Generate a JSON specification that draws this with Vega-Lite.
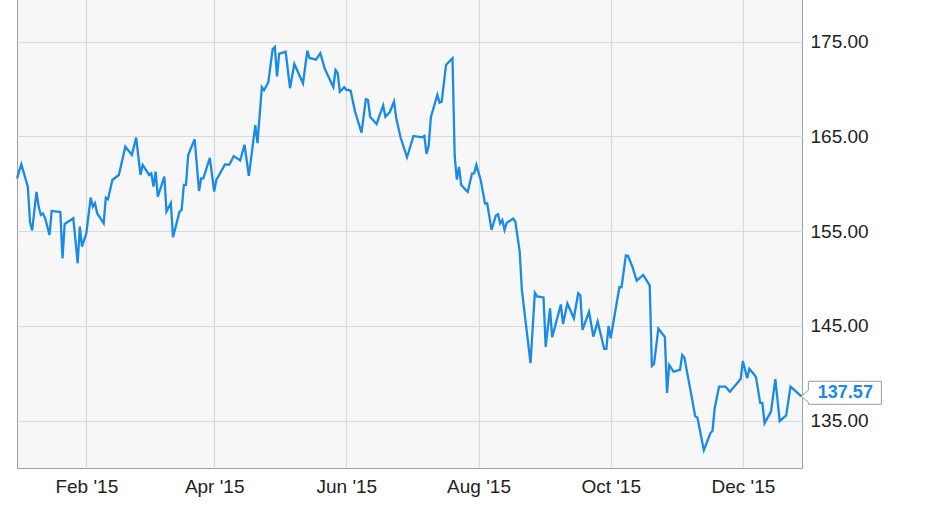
{
  "$schema": "https://vega.github.io/schema/vega-lite/v6.json",
  "width": 785,
  "height": 470,
  "autosize": {"type": "none"},
  "padding": {"left": 17, "top": -2, "right": 129, "bottom": 38},
  "background": "#ffffff",
  "config": {
    "view": {"fill": "#f7f7f7", "stroke": "#a0a0a0", "strokeWidth": 1},
    "axis": {
      "labelFont": "Liberation Sans",
      "labelFontSize": 19,
      "labelColor": "#222222",
      "gridColor": "#d9d9d9",
      "gridWidth": 1.2,
      "ticks": false,
      "domain": false,
      "title": null
    }
  },
  "data": {
    "values": [
      {"date": "2014-12-31", "close": 160.58},
      {"date": "2015-01-02", "close": 162.07},
      {"date": "2015-01-05", "close": 159.70},
      {"date": "2015-01-06", "close": 155.97},
      {"date": "2015-01-07", "close": 155.07},
      {"date": "2015-01-09", "close": 159.14},
      {"date": "2015-01-10", "close": 157.59},
      {"date": "2015-01-11", "close": 156.71},
      {"date": "2015-01-12", "close": 156.87},
      {"date": "2015-01-13", "close": 156.36},
      {"date": "2015-01-15", "close": 154.60},
      {"date": "2015-01-16", "close": 157.13},
      {"date": "2015-01-20", "close": 157.01},
      {"date": "2015-01-21", "close": 152.12},
      {"date": "2015-01-22", "close": 155.76},
      {"date": "2015-01-26", "close": 156.36},
      {"date": "2015-01-28", "close": 151.61},
      {"date": "2015-01-29", "close": 155.48},
      {"date": "2015-01-30", "close": 153.36},
      {"date": "2015-02-01", "close": 154.78},
      {"date": "2015-02-03", "close": 158.54},
      {"date": "2015-02-04", "close": 157.59},
      {"date": "2015-02-05", "close": 157.94},
      {"date": "2015-02-06", "close": 156.89},
      {"date": "2015-02-09", "close": 155.83},
      {"date": "2015-02-10", "close": 158.54},
      {"date": "2015-02-11", "close": 158.37},
      {"date": "2015-02-13", "close": 160.40},
      {"date": "2015-02-16", "close": 160.93},
      {"date": "2015-02-19", "close": 163.92},
      {"date": "2015-02-22", "close": 163.04},
      {"date": "2015-02-24", "close": 164.87},
      {"date": "2015-02-26", "close": 160.93},
      {"date": "2015-02-27", "close": 161.99},
      {"date": "2015-03-02", "close": 160.93},
      {"date": "2015-03-03", "close": 161.11},
      {"date": "2015-03-04", "close": 159.70},
      {"date": "2015-03-05", "close": 161.28},
      {"date": "2015-03-06", "close": 158.64},
      {"date": "2015-03-09", "close": 160.75},
      {"date": "2015-03-10", "close": 157.06},
      {"date": "2015-03-12", "close": 157.94},
      {"date": "2015-03-13", "close": 154.36},
      {"date": "2015-03-16", "close": 157.06},
      {"date": "2015-03-17", "close": 157.24},
      {"date": "2015-03-18", "close": 159.88},
      {"date": "2015-03-19", "close": 159.88},
      {"date": "2015-03-20", "close": 163.04},
      {"date": "2015-03-23", "close": 164.70},
      {"date": "2015-03-25", "close": 159.24},
      {"date": "2015-03-26", "close": 160.58},
      {"date": "2015-03-27", "close": 160.58},
      {"date": "2015-03-30", "close": 162.73},
      {"date": "2015-04-01", "close": 159.17},
      {"date": "2015-04-02", "close": 160.40},
      {"date": "2015-04-06", "close": 162.04},
      {"date": "2015-04-08", "close": 162.02},
      {"date": "2015-04-10", "close": 162.92},
      {"date": "2015-04-13", "close": 162.46},
      {"date": "2015-04-15", "close": 164.12},
      {"date": "2015-04-17", "close": 160.83},
      {"date": "2015-04-20", "close": 166.19},
      {"date": "2015-04-21", "close": 164.29},
      {"date": "2015-04-23", "close": 170.19},
      {"date": "2015-04-24", "close": 169.88},
      {"date": "2015-04-26", "close": 170.72},
      {"date": "2015-04-28", "close": 174.23},
      {"date": "2015-04-29", "close": 174.44},
      {"date": "2015-04-30", "close": 171.33},
      {"date": "2015-05-01", "close": 173.73},
      {"date": "2015-05-04", "close": 173.93},
      {"date": "2015-05-06", "close": 170.09},
      {"date": "2015-05-08", "close": 172.65},
      {"date": "2015-05-12", "close": 170.61},
      {"date": "2015-05-14", "close": 174.05},
      {"date": "2015-05-15", "close": 173.28},
      {"date": "2015-05-18", "close": 173.10},
      {"date": "2015-05-20", "close": 173.79},
      {"date": "2015-05-22", "close": 172.17},
      {"date": "2015-05-26", "close": 170.19},
      {"date": "2015-05-27", "close": 172.01},
      {"date": "2015-05-28", "close": 171.68},
      {"date": "2015-05-29", "close": 169.71},
      {"date": "2015-05-31", "close": 170.19},
      {"date": "2015-06-01", "close": 169.92},
      {"date": "2015-06-02", "close": 169.90},
      {"date": "2015-06-03", "close": 169.80},
      {"date": "2015-06-05", "close": 167.63},
      {"date": "2015-06-08", "close": 165.39},
      {"date": "2015-06-10", "close": 168.93},
      {"date": "2015-06-11", "close": 168.83},
      {"date": "2015-06-12", "close": 167.05},
      {"date": "2015-06-15", "close": 166.31},
      {"date": "2015-06-16", "close": 167.02},
      {"date": "2015-06-18", "close": 168.26},
      {"date": "2015-06-19", "close": 167.07},
      {"date": "2015-06-21", "close": 167.55},
      {"date": "2015-06-23", "close": 168.69},
      {"date": "2015-06-24", "close": 166.97},
      {"date": "2015-06-26", "close": 164.91},
      {"date": "2015-06-29", "close": 162.80},
      {"date": "2015-07-02", "close": 165.05},
      {"date": "2015-07-06", "close": 164.91},
      {"date": "2015-07-07", "close": 165.05},
      {"date": "2015-07-08", "close": 163.15},
      {"date": "2015-07-09", "close": 163.99},
      {"date": "2015-07-10", "close": 167.02},
      {"date": "2015-07-13", "close": 169.37},
      {"date": "2015-07-14", "close": 168.56},
      {"date": "2015-07-15", "close": 168.67},
      {"date": "2015-07-17", "close": 172.54},
      {"date": "2015-07-20", "close": 173.25},
      {"date": "2015-07-21", "close": 162.94},
      {"date": "2015-07-22", "close": 160.45},
      {"date": "2015-07-23", "close": 161.78},
      {"date": "2015-07-24", "close": 159.88},
      {"date": "2015-07-27", "close": 159.14},
      {"date": "2015-07-29", "close": 161.08},
      {"date": "2015-07-30", "close": 161.11},
      {"date": "2015-07-31", "close": 161.99},
      {"date": "2015-08-02", "close": 160.40},
      {"date": "2015-08-04", "close": 157.91},
      {"date": "2015-08-05", "close": 157.94},
      {"date": "2015-08-07", "close": 155.13},
      {"date": "2015-08-09", "close": 156.66},
      {"date": "2015-08-10", "close": 156.78},
      {"date": "2015-08-11", "close": 155.80},
      {"date": "2015-08-12", "close": 156.18},
      {"date": "2015-08-13", "close": 155.13},
      {"date": "2015-08-14", "close": 155.87},
      {"date": "2015-08-17", "close": 156.33},
      {"date": "2015-08-18", "close": 156.00},
      {"date": "2015-08-20", "close": 152.84},
      {"date": "2015-08-21", "close": 148.79},
      {"date": "2015-08-25", "close": 141.06},
      {"date": "2015-08-27", "close": 148.50},
      {"date": "2015-08-28", "close": 148.11},
      {"date": "2015-08-31", "close": 148.00},
      {"date": "2015-09-01", "close": 142.78},
      {"date": "2015-09-03", "close": 146.86},
      {"date": "2015-09-04", "close": 143.80},
      {"date": "2015-09-08", "close": 147.26},
      {"date": "2015-09-09", "close": 145.21},
      {"date": "2015-09-11", "close": 147.36},
      {"date": "2015-09-14", "close": 145.81},
      {"date": "2015-09-16", "close": 148.45},
      {"date": "2015-09-17", "close": 148.21},
      {"date": "2015-09-18", "close": 144.57},
      {"date": "2015-09-21", "close": 146.50},
      {"date": "2015-09-23", "close": 143.87},
      {"date": "2015-09-25", "close": 145.45},
      {"date": "2015-09-28", "close": 142.57},
      {"date": "2015-09-29", "close": 142.57},
      {"date": "2015-09-30", "close": 144.99},
      {"date": "2015-10-01", "close": 143.70},
      {"date": "2015-10-05", "close": 149.08},
      {"date": "2015-10-06", "close": 149.08},
      {"date": "2015-10-08", "close": 152.44},
      {"date": "2015-10-09", "close": 152.38},
      {"date": "2015-10-11", "close": 151.25},
      {"date": "2015-10-13", "close": 149.78},
      {"date": "2015-10-16", "close": 150.38},
      {"date": "2015-10-19", "close": 149.27},
      {"date": "2015-10-20", "close": 140.77},
      {"date": "2015-10-21", "close": 140.98},
      {"date": "2015-10-23", "close": 144.70},
      {"date": "2015-10-26", "close": 143.83},
      {"date": "2015-10-27", "close": 137.92},
      {"date": "2015-10-28", "close": 140.88},
      {"date": "2015-10-30", "close": 140.17},
      {"date": "2015-11-02", "close": 140.35},
      {"date": "2015-11-03", "close": 141.93},
      {"date": "2015-11-04", "close": 141.67},
      {"date": "2015-11-07", "close": 137.98},
      {"date": "2015-11-09", "close": 135.47},
      {"date": "2015-11-10", "close": 135.34},
      {"date": "2015-11-13", "close": 131.88},
      {"date": "2015-11-16", "close": 133.67},
      {"date": "2015-11-17", "close": 133.94},
      {"date": "2015-11-18", "close": 136.31},
      {"date": "2015-11-20", "close": 138.59},
      {"date": "2015-11-23", "close": 138.59},
      {"date": "2015-11-25", "close": 138.06},
      {"date": "2015-11-29", "close": 139.12},
      {"date": "2015-11-30", "close": 139.40},
      {"date": "2015-12-01", "close": 141.30},
      {"date": "2015-12-03", "close": 139.47},
      {"date": "2015-12-04", "close": 140.48},
      {"date": "2015-12-07", "close": 139.64},
      {"date": "2015-12-09", "close": 136.87},
      {"date": "2015-12-10", "close": 136.87},
      {"date": "2015-12-11", "close": 134.73},
      {"date": "2015-12-14", "close": 135.95},
      {"date": "2015-12-16", "close": 139.37},
      {"date": "2015-12-18", "close": 134.95},
      {"date": "2015-12-21", "close": 135.55},
      {"date": "2015-12-23", "close": 138.59},
      {"date": "2015-12-28", "close": 137.57}
    ]
  },
  "layer": [
    {
      "mark": {"type": "line", "color": "#1a8ae8", "strokeWidth": 2.3},
      "encoding": {
        "x": {
          "field": "date",
          "type": "temporal",
          "scale": {
            "type": "utc",
            "domain": [
              {"year": 2014, "month": 12, "date": 31, "utc": true},
              {"year": 2015, "month": 12, "date": 28, "hours": 7, "utc": true}
            ]
          },
          "axis": {
            "values": [
              {"year": 2015, "month": 2, "date": 1, "utc": true},
              {"year": 2015, "month": 4, "date": 1, "utc": true},
              {"year": 2015, "month": 6, "date": 1, "utc": true},
              {"year": 2015, "month": 8, "date": 1, "utc": true},
              {"year": 2015, "month": 10, "date": 1, "utc": true},
              {"year": 2015, "month": 12, "date": 1, "utc": true}
            ],
            "labelExpr": "utcFormat(datum.value, \"%b '%y\")",
            "labelPadding": 9,
            "labelFlush": false
          }
        },
        "y": {
          "field": "close",
          "type": "quantitative",
          "scale": {"domain": [130, 179.61], "nice": false, "zero": false},
          "axis": {
            "orient": "right",
            "values": [135, 145, 155, 165, 175],
            "format": ".2f",
            "labelPadding": 8
          }
        }
      }
    },
    {
      "transform": [
        {"window": [{"op": "row_number", "as": "rn"}], "sort": [{"field": "date", "order": "descending"}]},
        {"filter": "datum.rn === 1"}
      ],
      "mark": {
        "type": "point",
        "shape": "M0,0 L7,-6 L7,-15 L80,-15 L80,8 L7,8 L7,6 Z",
        "size": 4,
        "filled": true,
        "fill": "#ffffff",
        "stroke": "#9a9a9a",
        "strokeWidth": 1,
        "opacity": 1
      },
      "encoding": {
        "x": {"field": "date", "type": "temporal"},
        "y": {"field": "close", "type": "quantitative"}
      }
    },
    {
      "transform": [
        {"window": [{"op": "row_number", "as": "rn"}], "sort": [{"field": "date", "order": "descending"}]},
        {"filter": "datum.rn === 1"}
      ],
      "mark": {
        "type": "text",
        "align": "center",
        "baseline": "middle",
        "dx": 44,
        "dy": -3,
        "font": "Liberation Sans",
        "fontSize": 18,
        "fontWeight": "bold",
        "color": "#1a8ae8"
      },
      "encoding": {
        "x": {"field": "date", "type": "temporal"},
        "y": {"field": "close", "type": "quantitative"},
        "text": {"field": "close", "type": "quantitative", "format": ".2f"}
      }
    }
  ]
}
